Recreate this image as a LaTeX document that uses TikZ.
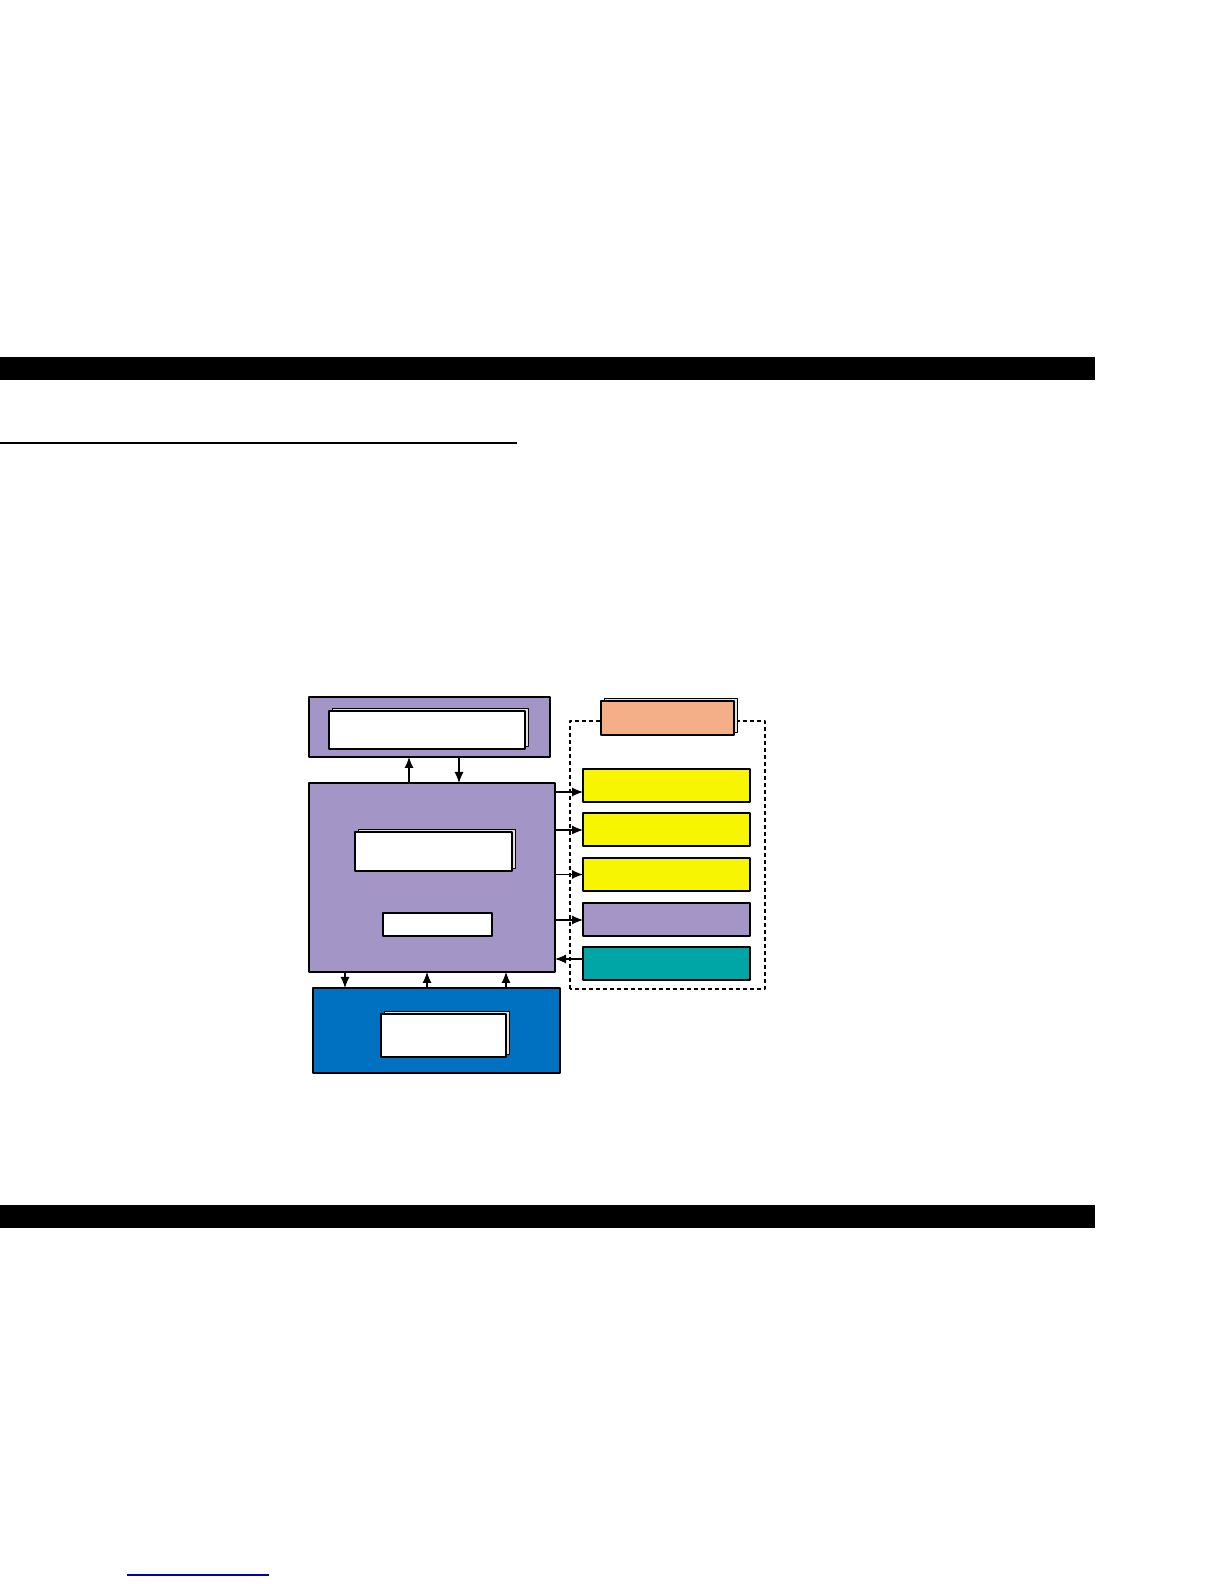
\documentclass[tikz,border=0pt]{standalone}
\usetikzlibrary{arrows.meta,shadows}
\definecolor{lilac}{RGB}{163,149,197}
\definecolor{busblue}{RGB}{0,112,192}
\definecolor{lampyellow}{RGB}{247,245,0}
\definecolor{teal}{RGB}{0,166,166}
\definecolor{salmon}{RGB}{244,174,136}
\definecolor{shadegray}{RGB}{226,226,224}
\definecolor{linkblue}{RGB}{0,0,170}
\tikzset{
  box/.style={draw=black,rectangle,line width=2bp,inner sep=0pt,outer sep=0pt},
  card/.style={draw=black,rectangle,fill=white,line width=1.3bp,inner sep=0pt,outer sep=0pt,
    general shadow={fill=shadegray,draw=black,line width=0.8bp,shadow xshift=3bp,shadow yshift=3bp}},
  unit/.style={box,minimum width=167bp,minimum height=33bp},
  link/.style={->,line width=1.1bp},
}
\begin{document}
\begin{tikzpicture}[>={Latex[length=11bp,width=9bp]},line join=bevel,]
    %%
    \path[use as bounding box] (0bp,0bp) rectangle (1224bp,1584bp);
    \fill[black] (0bp,1204bp) rectangle (1095bp,1227bp);
    \draw[line width=1.5bp] (0bp,1141bp) -- (517bp,1141bp);
    \fill[black] (0bp,356bp) rectangle (1095bp,379bp);
    \draw[linkblue,line width=1.5bp] (127bp,9bp) -- (269bp,9bp);
    %
    \node (top) at (429.5bp,857.0bp) [box,fill=lilac,minimum width=241bp,minimum height=60bp] {};
    \node (topin) at (427.0bp,854.0bp) [card,minimum width=196bp,minimum height=38bp] {};
    \node (main) at (432.0bp,706.5bp) [box,fill=lilac,minimum width=246bp,minimum height=189bp] {};
    \node (mainin) at (433.5bp,732.5bp) [card,minimum width=157bp,minimum height=39bp] {};
    \node (reg) at (437.5bp,659.5bp) [box,fill=white,line width=1.3bp,minimum width=109bp,minimum height=23bp] {};
    \node (bottom) at (436.5bp,553.5bp) [box,fill=busblue,minimum width=247bp,minimum height=85bp] {};
    \node (botin) at (443.5bp,548.5bp) [card,minimum width=125bp,minimum height=43bp] {};
    %
    \draw[dashed,line width=1.3bp,dash pattern=on 4bp off 3bp] (570bp,595bp) rectangle (765bp,863bp);
    \node (head) at (667.5bp,866.0bp) [box,fill=salmon,minimum width=133bp,minimum height=34bp,
      general shadow={fill=shadegray,draw=black,line width=0.8bp,shadow xshift=3bp,shadow yshift=3bp}] {};
    \node (out1) at (666.5bp,798.5bp) [unit,fill=lampyellow] {};
    \node (out2) at (666.5bp,754.0bp) [unit,fill=lampyellow] {};
    \node (out3) at (666.5bp,709.5bp) [unit,fill=lampyellow] {};
    \node (out4) at (666.5bp,664.0bp) [unit,fill=lilac] {};
    \node (in1) at (666.5bp,620.0bp) [unit,fill=teal] {};
    %
    \draw [link] ([xshift=-23bp]main.north) -- ([xshift=-23bp]main.north |- top.south);
    \draw [link] ([xshift=27bp]main.north |- top.south) -- ([xshift=27bp]main.north);
    \draw [link] ([xshift=-87bp]main.south) -- ([xshift=-87bp]main.south |- bottom.north);
    \draw [link] ([xshift=-5bp]main.south |- bottom.north) -- ([xshift=-5bp]main.south);
    \draw [link] ([xshift=74bp]main.south |- bottom.north) -- ([xshift=74bp]main.south);
    \draw [link] ([yshift=-6.5bp]out1.west -| main.east) -- ([yshift=-6.5bp]out1.west);
    \draw [link] (out2.west -| main.east) -- (out2.west);
    \draw [link] (out3.west -| main.east) -- (out3.west);
    \draw [link] (out4.west -| main.east) -- (out4.west);
    \draw [link] ([yshift=5bp]in1.west) -- ([yshift=5bp]in1.west -| main.east);
    %
\end{tikzpicture}
\end{document}
